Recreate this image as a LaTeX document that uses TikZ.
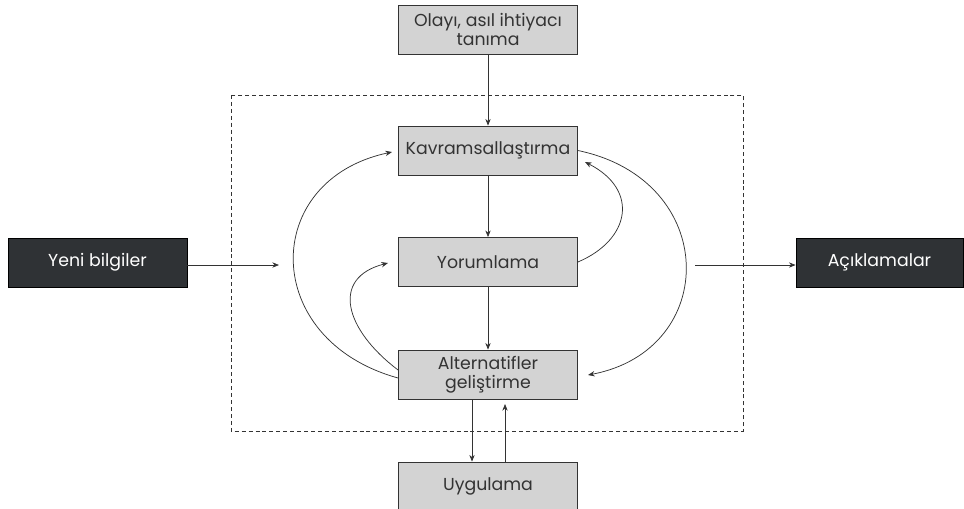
\documentclass[tikz,border=0pt]{standalone}
\usepackage{fontspec}
\setmainfont{Poppins}
\usetikzlibrary{arrows.meta}
\definecolor{boxgray}{HTML}{D3D3D3}
\definecolor{boxdark}{HTML}{2F3235}
\definecolor{ink}{HTML}{333333}
\tikzset{
  stagebox/.style={draw=ink,fill=boxgray,text=ink,line width=0.6pt,
    minimum width=134.25pt,minimum height=36.75pt,align=center,
    font=\fontsize{13}{14.5}\selectfont,inner sep=2pt},
  outerbox/.style={stagebox,fill=boxdark,text=white,draw=black},
  flow/.style={draw=ink,line width=0.55pt,-{Stealth[length=5pt,width=4pt]}}
}
\begin{document}
\begin{tikzpicture}[x=0.75pt,y=-0.75pt]
\useasboundingbox (0,0) rectangle (964,508);
\draw[ink,line width=0.5pt,dash pattern=on 3pt off 2.2pt] (231,95) rectangle (743,431);
\node[stagebox] (olay) at (488,29.5) {Olayı, asıl ihtiyacı\\tanıma};
\node[stagebox] (kavram) at (488,150.5) {Kavramsallaştırma};
\node[stagebox] (yorum) at (488,262) {Yorumlama};
\node[stagebox] (altern) at (488,374.5) {Alternatifler\\geliştirme};
\node[stagebox] (uygul) at (488,486.5) {Uygulama};
\node[outerbox] (yeni) at (97.5,262.5) {Yeni bilgiler};
\node[outerbox,minimum width=125.25pt] (acik) at (879.5,262.5) {Açıklamalar};
\coordinate (yeniend) at (279,265);
\coordinate (acikstart) at (695,265);
\coordinate (upend) at (505,404);
\draw[flow] (olay) -- (kavram);
\draw[flow] (kavram) -- (yorum);
\draw[flow] (yorum) -- (altern);
\draw[flow] (altern.south -| 472,0) -- (uygul.north -| 472,0);
\draw[flow] (uygul.north -| upend) -- (upend);
\draw[flow] (yeni.east |- yeniend) -- (yeniend);
\draw[flow] (acikstart) -- (acik.west |- acikstart);
% feedback loops
\draw[flow] (altern.west |- 0,378) .. controls (260,340) and (260,180) .. (392,152);
\draw[flow] (altern.west |- 0,370) .. controls (345,330) and (330,278) .. (388,263);
\draw[flow] (yorum.east) .. controls (630,240) and (640,190) .. (585,162);
\draw[flow] (kavram.east) .. controls (720,180) and (720,350) .. (588,375);
\end{tikzpicture}
\end{document}
